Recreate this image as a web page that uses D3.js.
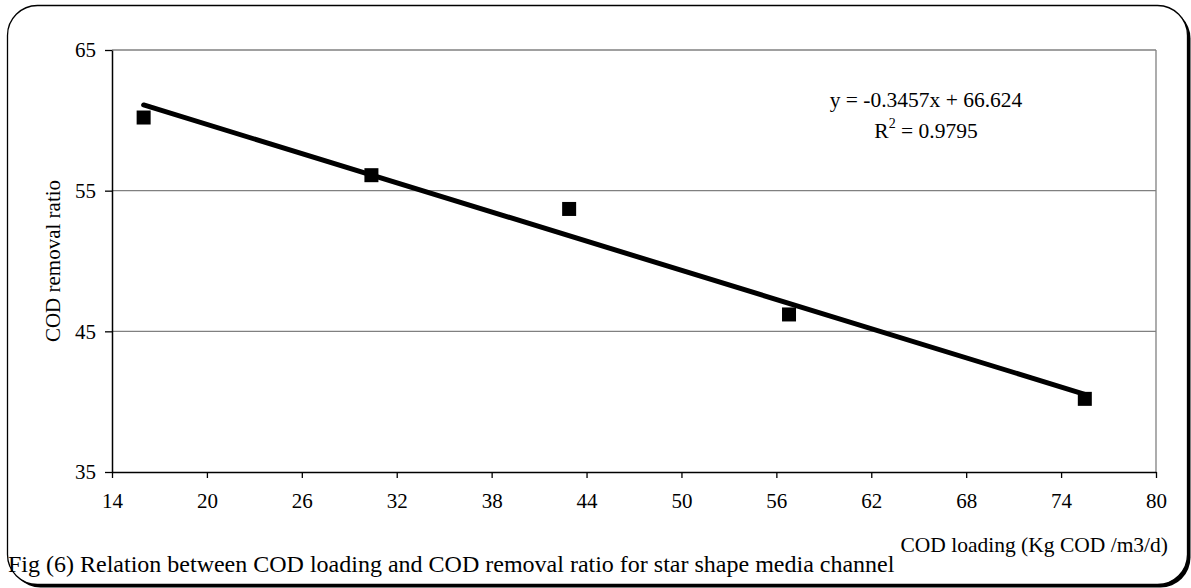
<!DOCTYPE html>
<html><head><meta charset="utf-8">
<script src="https://cdn.jsdelivr.net/npm/d3@7"></script>
<style>
body{margin:0;background:#fff}
svg{display:block}
text{font-family:"Liberation Serif","Times New Roman",serif;fill:#000}
</style>
</head><body>
<svg id="c" width="1191" height="588"></svg>
<script>
const loading = [16.0, 30.4, 42.9, 56.8, 75.5];
const removal = [60.2, 56.1, 53.7, 46.2, 40.2];
const xTicks = [14, 20, 26, 32, 38, 44, 50, 56, 62, 68, 74, 80];
const yTicks = [35, 45, 55, 65];
const trendSlope = -0.3457;
const trendIntercept = 66.624;
const eqText = "y = -0.3457x + 66.624";
const r2Text = "0.9795";
const xTitle = "COD loading (Kg COD /m3/d)";
const yTitle = "COD removal ratio";
const caption = "Fig (6) Relation between COD loading and COD removal ratio for star shape media channel";

const svg = d3.select("#c");
const m = {l:112, t:50, r:1156, b:472};
const x = d3.scaleLinear().domain([14, 80]).range([m.l, m.r]);
const y = d3.scaleLinear().domain([35, 65]).range([m.b, m.t]);

// frame with shadow
svg.append("rect").attr("x",10.5).attr("y",8.5).attr("width",1180).attr("height",579)
  .attr("rx",30).attr("fill","#000");
svg.append("rect").attr("x",7.5).attr("y",5.5).attr("width",1180).attr("height",579)
  .attr("rx",30).attr("fill","#fff").attr("stroke","#000").attr("stroke-width",1.3);

// gridlines
svg.append("g").selectAll("line").data(yTicks.filter(d=>d>35)).join("line")
  .attr("x1",m.l).attr("x2",m.r).attr("y1",d=>y(d)).attr("y2",d=>y(d))
  .attr("stroke","#808080").attr("stroke-width",1.3);
svg.append("line").attr("x1",m.r).attr("x2",m.r).attr("y1",m.t).attr("y2",m.b)
  .attr("stroke","#808080").attr("stroke-width",1.3);

// axes
const yAxis = svg.append("g").attr("transform",`translate(${m.l},0)`)
  .call(d3.axisLeft(y).tickValues(yTicks).tickSize(7).tickPadding(9).tickSizeOuter(0));
const xAxis = svg.append("g").attr("transform",`translate(0,${m.b})`)
  .call(d3.axisBottom(x).tickValues(xTicks).tickSize(6).tickPadding(15).tickSizeOuter(0));
[xAxis, yAxis].forEach(g=>{
  g.select(".domain").attr("stroke","#000").attr("stroke-width",1.5);
  g.selectAll(".tick line").attr("stroke","#000").attr("stroke-width",1.3);
  g.selectAll(".tick text").attr("font-family",'"Liberation Serif",serif').attr("font-size",21).attr("fill","#000");
});

// trendline
const x0 = d3.min(loading), x1 = d3.max(loading);
svg.append("line")
  .attr("x1",x(x0)).attr("y1",y(trendSlope*x0+trendIntercept))
  .attr("x2",x(x1)).attr("y2",y(trendSlope*x1+trendIntercept))
  .attr("stroke","#000").attr("stroke-width",5).attr("stroke-linecap","round");

// markers
const s = 14;
svg.append("g").selectAll("rect").data(loading.map((d,i)=>[d,removal[i]])).join("rect")
  .attr("x",d=>x(d[0])-s/2).attr("y",d=>y(d[1])-s/2).attr("width",s).attr("height",s)
  .attr("fill","#000");

// equation
svg.append("text").attr("x",926).attr("y",107).attr("text-anchor","middle")
  .attr("font-size",21.5).text(eqText);
const r2 = svg.append("text").attr("x",926).attr("y",138).attr("text-anchor","middle").attr("font-size",21.5);
r2.append("tspan").text("R");
r2.append("tspan").attr("dy",-10).attr("font-size",14).text("2");
r2.append("tspan").attr("dy",10).text(" = " + r2Text);

// titles
svg.append("text").attr("transform",`translate(60,${(m.t+m.b)/2}) rotate(-90)`)
  .attr("text-anchor","middle").attr("font-size",21).text(yTitle);
svg.append("text").attr("x",1168).attr("y",552).attr("text-anchor","end")
  .attr("font-size",21.5).text(xTitle);
svg.append("text").attr("x",8).attr("y",572).attr("font-size",24).text(caption);
</script>
</body></html>
